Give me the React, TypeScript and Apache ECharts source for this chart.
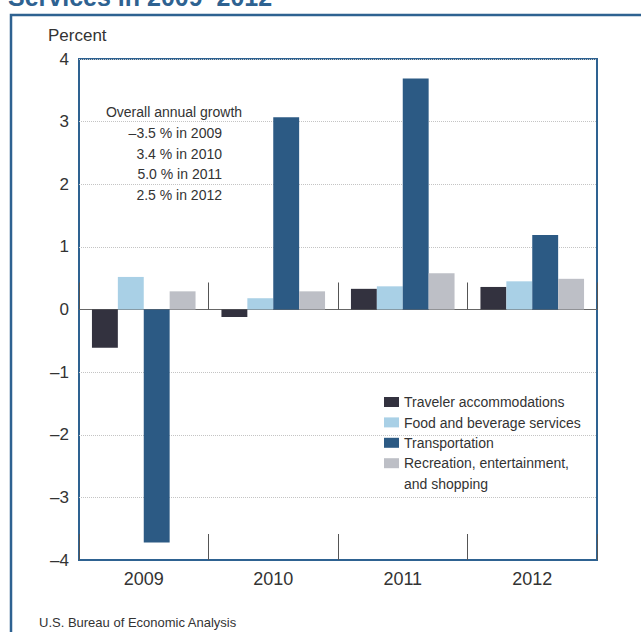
import React, { useEffect, useRef } from "react";
import * as echarts from "echarts";

const years = ["2009", "2010", "2011", "2012"];
const seriesNames = [
  "Traveler accommodations",
  "Food and beverage services",
  "Transportation",
  "Recreation, entertainment,\nand shopping",
];
const traveler = [-0.61, -0.12, 0.33, 0.36];
const food = [0.52, 0.18, 0.37, 0.45];
const transport = [-3.72, 3.07, 3.69, 1.19];
const recreation = [0.29, 0.29, 0.58, 0.49];
const yMin = -4;
const yMax = 4;
const yInterval = 1;
const titleText = "Services in 2009–2012";
const yAxisTitle = "Percent";
const growthHeading = "Overall annual growth";
const growthLines = ["–3.5 % in 2009", "3.4 % in 2010", "5.0 % in 2011", "2.5 % in 2012"];
const sourceText = "U.S. Bureau of Economic Analysis";

const COLORS = ["#33323f", "#a9d0e6", "#2c5a84", "#bdbfc6"];
const FRAME = "#2e6291";
const FONT = "'Liberation Sans', Arial, Helvetica, sans-serif";

export default function App() {
  const ref = useRef<HTMLDivElement>(null);
  useEffect(() => {
    if (!ref.current) return;
    const chart = echarts.init(ref.current, undefined, { renderer: "svg" });
    const values = [traveler, food, transport, recreation];
    const legendX = 384;
    const legendY = 402;
    const legendStep = 20.4;
    const legendGraphics: any[] = [];
    seriesNames.forEach((n, i) => {
      const cy = legendY + i * legendStep;
      legendGraphics.push({
        type: "rect",
        shape: { x: legendX, y: cy - 5, width: 15, height: 10 },
        style: { fill: COLORS[i] },
        silent: true,
      });
      legendGraphics.push({
        type: "text",
        x: legendX + 20,
        y: cy - 10,
        style: {
          text: n,
          font: `14px ${FONT}`,
          lineHeight: 20.4,
          fill: "#333",
          textAlign: "left",
          textVerticalAlign: "top",
        },
        silent: true,
      });
    });
    const option: any = {
      animation: false,
      backgroundColor: "#ffffff",
      textStyle: { fontFamily: FONT },
      grid: {
        left: 79,
        right: 44,
        top: 59,
        bottom: 72,
        show: true,
        borderColor: FRAME,
        borderWidth: 2,
        backgroundColor: "transparent",
      },
      xAxis: [
        {
          type: "category",
          data: years,
          position: "bottom",
          axisLine: { onZero: false, lineStyle: { color: FRAME, width: 2 } },
          axisTick: { show: true, inside: true, length: 26, lineStyle: { color: "#555", width: 1 } },
          axisLabel: { fontSize: 18, color: "#333", margin: 10, fontFamily: FONT },
          splitLine: { show: false },
        },
        {
          type: "category",
          data: years,
          position: "bottom",
          axisLine: { onZero: true, lineStyle: { color: "#666", width: 1 } },
          axisTick: { show: true, inside: true, length: 27, lineStyle: { color: "#555", width: 1 } },
          axisLabel: { show: false },
          splitLine: { show: false },
        },
      ],
      yAxis: {
        type: "value",
        min: yMin,
        max: yMax,
        interval: yInterval,
        axisLine: { show: false },
        axisTick: { show: false },
        axisLabel: {
          fontSize: 17,
          color: "#333",
          margin: 10,
          fontFamily: FONT,
          formatter: (v: number) => String(v).replace("-", "–"),
        },
        splitLine: { show: true, lineStyle: { color: "#c4c4c4", type: "dotted", width: 1 } },
      },
      series: values.map((d, i) => ({
        name: seriesNames[i],
        type: "bar",
        xAxisIndex: 0,
        data: d,
        barGap: "0%",
        barCategoryGap: "20%",
        itemStyle: { color: COLORS[i] },
      })),
      graphic: [
        {
          type: "rect",
          shape: { x: 11, y: 15, width: 700, height: 700 },
          style: { fill: "none", stroke: FRAME, lineWidth: 2.5 },
          z: 10,
          silent: true,
        },
        {
          type: "text",
          x: 8,
          y: -3,
          style: {
            text: titleText,
            font: `bold 25px ${FONT}`,
            fill: FRAME,
            textAlign: "left",
            textVerticalAlign: "middle",
          },
        },
        {
          type: "text",
          x: 48,
          y: 35,
          style: {
            text: yAxisTitle,
            font: `17px ${FONT}`,
            fill: "#333",
            textAlign: "left",
            textVerticalAlign: "middle",
          },
        },
        {
          type: "text",
          x: 174,
          y: 112,
          style: {
            text: growthHeading,
            font: `14px ${FONT}`,
            fill: "#333",
            textAlign: "center",
            textVerticalAlign: "middle",
          },
        },
        ...growthLines.map((t, i) => ({
          type: "text",
          x: 222,
          y: 133 + i * 20.7,
          style: {
            text: t,
            font: `14px ${FONT}`,
            fill: "#333",
            textAlign: "right",
            textVerticalAlign: "middle",
          },
        })),
        ...legendGraphics,
        {
          type: "text",
          x: 39,
          y: 622,
          style: {
            text: sourceText,
            font: `13px ${FONT}`,
            fill: "#333",
            textAlign: "left",
            textVerticalAlign: "middle",
          },
        },
      ],
    };
    chart.setOption(option);
    return () => chart.dispose();
  }, []);
  return (
    <div
      ref={ref}
      style={{ position: "fixed", left: 0, top: 0, width: 641, height: 632, background: "#fff" }}
    />
  );
}
